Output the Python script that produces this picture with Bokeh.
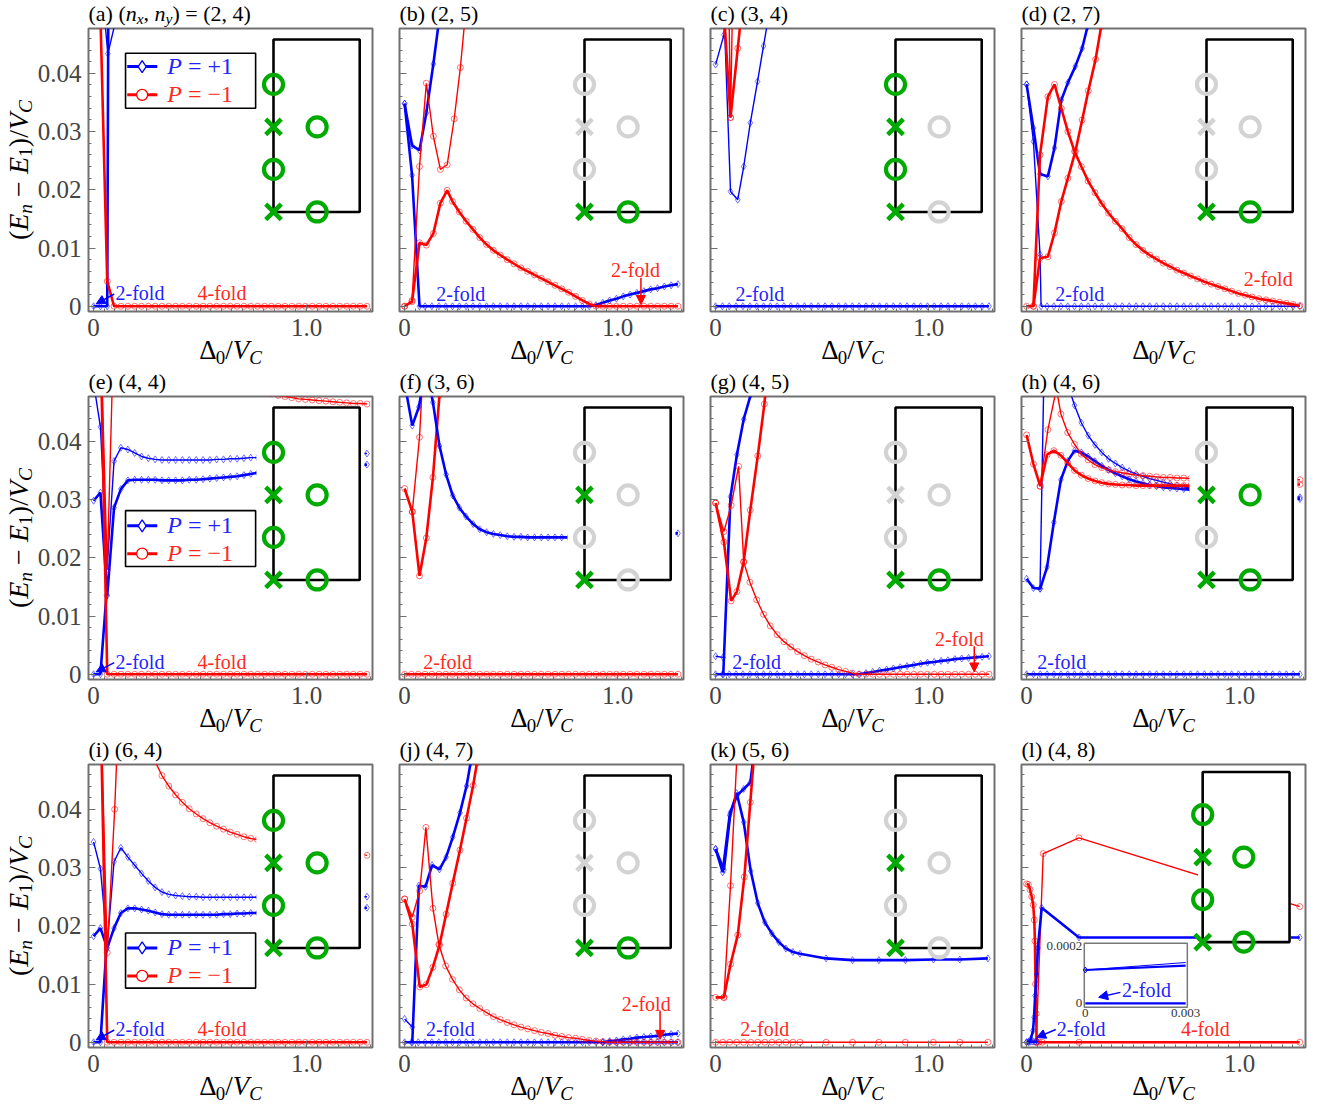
from math import pi

from bokeh.plotting import figure
from bokeh.layouts import row, column
from bokeh.models import Range1d, FixedTicker, Label, Arrow, NormalHead
from bokeh.embed import file_html
from bokeh.resources import INLINE

FONT = "Liberation Serif"
BLUE = "#0000ff"
RED = "#ff0000"
BLUE_TXT = "#2323ff"
RED_TXT = "#ff2a1e"
GREEN = "#00aa00"
LGRAY = "#d3d3d3"
THICK = 2.6
THIN = 1.4

XMIN, XMAX = -0.024, 1.31
YMIN, YMAX = -0.0009, 0.0477

# ---------------------------------------------------------------- data
X = [0.000, 0.032, 0.064, 0.096, 0.128, 0.161, 0.193, 0.225, 0.257, 0.289,
     0.321, 0.353, 0.385, 0.417, 0.449, 0.482, 0.514, 0.546, 0.578, 0.610,
     0.642, 0.674, 0.706, 0.738, 0.770, 0.803, 0.835, 0.867, 0.899, 0.931,
     0.963, 0.995, 1.027, 1.059, 1.091, 1.124, 1.156, 1.188, 1.220, 1.252, 1.284]
ZEROS = [0.0, 0.0, 0.0, 0.0, 0.0, 0.0, 0.0, 0.0, 0.0, 0.0,
         0.0, 0.0, 0.0, 0.0, 0.0, 0.0, 0.0, 0.0, 0.0, 0.0,
         0.0, 0.0, 0.0, 0.0, 0.0, 0.0, 0.0, 0.0, 0.0, 0.0,
         0.0, 0.0, 0.0, 0.0, 0.0, 0.0, 0.0, 0.0, 0.0, 0.0, 0.0]

Y_TICKS = [0.0, 0.01, 0.02, 0.03, 0.04]
Y_TICK_LABELS = ["0", "0.01", "0.02", "0.03", "0.04"]
X_TICKS = [0.0, 1.0]
X_TICK_LABELS = ["0", "1.0"]

# (a) (2, 4)
a_blue1_x = [0.000, 0.032, 0.064, 0.070]
a_blue1_y = [0.0, 0.0, 0.0, 0.0600]
a_blue2_x = [0.050, 0.067, 0.110]
a_blue2_y = [0.0500, 0.0434, 0.0500]
a_red1_x = X[1:]
a_red1_y = [0.0500, 0.0043] + ZEROS[:38]

# (b) (2, 5)
b_blue1_x = [0.000, 0.035, 0.070, 0.102, 0.135, 0.165]
b_blue1_y = [0.0348, 0.0276, 0.0268, 0.0332, 0.0416, 0.0500]
b_blue2_x = [0.000, 0.035, 0.070] + X[3:]
b_blue2_y = ([0.0348, 0.0225, 0.0] + ZEROS[:25] +
             [0.0002, 0.0006, 0.0010, 0.0013, 0.0017, 0.0020, 0.0023,
              0.0026, 0.0029, 0.0031, 0.0034, 0.0036, 0.0038])
b_red1_x = [0.000, 0.035, 0.070, 0.102, 0.135, 0.168, 0.200] + X[7:]
b_red1_y = ([0.0, 0.0008, 0.0109, 0.0105, 0.0125, 0.0177, 0.0199] +
            [0.0180, 0.0162, 0.0146, 0.0132, 0.0118, 0.0106, 0.0096, 0.0088,
             0.0080, 0.0073, 0.0066, 0.0060, 0.0054, 0.0048, 0.0042, 0.0036,
             0.0030, 0.0024, 0.0017, 0.0010, 0.0004] + ZEROS[:13])
b_red2_x = [0.000, 0.035, 0.070, 0.102, 0.135, 0.168, 0.200, 0.233, 0.262, 0.285]
b_red2_y = [0.0, 0.0010, 0.0240, 0.0383, 0.0292, 0.0235, 0.0243, 0.0322, 0.0410, 0.0500]

# (c) (3, 4)
c_blue0_x = X
c_blue0_y = ZEROS
c_blue1_x = [0.000, 0.039, 0.045]
c_blue1_y = [0.0415, 0.0466, 0.0500]
c_blue2_x = [0.037, 0.070, 0.104, 0.132, 0.163, 0.197, 0.225, 0.250]
c_blue2_y = [0.0530, 0.0197, 0.0183, 0.0240, 0.0315, 0.0386, 0.0447, 0.0500]
c_red1_x = [0.035, 0.070, 0.104, 0.129]
c_red1_y = [0.0530, 0.0324, 0.0443, 0.0530]
c_red2_x = [0.062, 0.070, 0.080]
c_red2_y = [0.0530, 0.0324, 0.0530]

# (d) (2, 7)
d_blue1_x = [0.000, 0.032, 0.063, 0.100, 0.131, 0.163, 0.194, 0.229, 0.261, 0.286]
d_blue1_y = [0.0381, 0.0306, 0.0227, 0.0223, 0.0272, 0.0354, 0.0384, 0.0412, 0.0443, 0.0480]
d_blue2_x = [0.000, 0.032, 0.063, 0.068] + X[3:]
d_blue2_y = [0.0381, 0.0283, 0.0089, 0.0] + ZEROS[:38]
d_red1_x = [0.000, 0.032, 0.063, 0.100, 0.131, 0.163, 0.194] + X[7:]
d_red1_y = ([0.0, 0.0, 0.0260, 0.0360, 0.0381, 0.0340, 0.0300] +
            [0.0266, 0.0240, 0.0215, 0.0195, 0.0176, 0.0160, 0.0146, 0.0133,
             0.0118, 0.0106, 0.0096, 0.0088, 0.0081, 0.0074, 0.0068, 0.0062,
             0.0057, 0.0052, 0.0047, 0.0042, 0.0038, 0.0034, 0.0030, 0.0026,
             0.0022, 0.0019, 0.0016, 0.0013, 0.0011, 0.0009, 0.0007, 0.0005,
             0.0003, 0.0001])
d_red2_x = [0.032, 0.063, 0.100, 0.131, 0.163, 0.194, 0.229, 0.261, 0.290, 0.324, 0.350]
d_red2_y = [0.0, 0.0083, 0.0085, 0.0126, 0.0180, 0.0220, 0.0266, 0.0320, 0.0370, 0.0424, 0.0480]

# (e) (4, 4)
e_blue1_x = X
e_blue1_y = [0.0298, 0.0312, 0.0135, 0.0286, 0.0318, 0.0333, 0.0334, 0.0334, 0.0334, 0.0334,
             0.0333, 0.0333, 0.0333, 0.0333, 0.0334, 0.0334, 0.0335, 0.0336, 0.0337, 0.0338,
             0.0339, 0.0340, 0.0342, 0.0344, 0.0346, 0.0347, 0.0348, 0.0349, 0.0350, 0.0351,
             0.0352, 0.0353, 0.0354, 0.0355, 0.0356, 0.0357, 0.0357, 0.0358, 0.0359, 0.0359,
             0.0360]
e_blue2_x = X
e_blue2_y = [0.0500, 0.0425, 0.0185, 0.0366, 0.0389, 0.0386, 0.0380, 0.0374, 0.0371, 0.0369,
             0.0368, 0.0368, 0.0368, 0.0368, 0.0368, 0.0368, 0.0368, 0.0368, 0.0369, 0.0369,
             0.0370, 0.0370, 0.0371, 0.0372, 0.0372, 0.0373, 0.0373, 0.0374, 0.0374, 0.0375,
             0.0375, 0.0376, 0.0376, 0.0377, 0.0377, 0.0378, 0.0378, 0.0378, 0.0379, 0.0379,
             0.0379]
e_blue3_x = [0.000, 0.032, 0.060]
e_blue3_y = [0.0, 0.0, 0.0135]
e_red1_x = X[1:]
e_red1_y = [0.0590] + ZEROS[:39]
e_red2_x = [0.032, 0.064, 0.096]
e_red2_y = [0.0600, 0.0180, 0.0610]
e_red3_x = X[24:]
e_red3_y = [0.0490, 0.0486, 0.0482, 0.0479, 0.0477, 0.0475, 0.0473, 0.0472, 0.0471,
            0.0470, 0.0469, 0.0468, 0.0467, 0.0466, 0.0465, 0.0465, 0.0464]

# (f) (3, 6)
f_red0_x = X
f_red0_y = ZEROS
f_red1_x = [0.000, 0.036, 0.070, 0.102, 0.133, 0.164]
f_red1_y = [0.0319, 0.0279, 0.0169, 0.0234, 0.0338, 0.0480]
f_red2_x = [0.036, 0.070, 0.082]
f_red2_y = [0.0279, 0.0407, 0.0490]
f_blue1_x = [0.005, 0.036, 0.067, 0.082]
f_blue1_y = [0.0490, 0.0427, 0.0459, 0.0490]
f_blue2_x = [0.115, 0.133, 0.164, 0.195, 0.226, 0.257, 0.288, 0.322, 0.353] + X[12:]
f_blue2_y = ([0.0500, 0.0467, 0.0392, 0.0343, 0.0307, 0.0286, 0.0271, 0.0258, 0.0249] +
             [0.0244, 0.0241, 0.0239, 0.0237, 0.0236, 0.0236, 0.0235, 0.0235, 0.0235, 0.0235,
              0.0235, 0.0235, 0.0235, 0.0235, 0.0236, 0.0236, 0.0237, 0.0237, 0.0238, 0.0238,
              0.0239, 0.0239, 0.0240, 0.0240, 0.0241, 0.0241, 0.0242, 0.0242, 0.0242])

# (g) (4, 5)
g_blue0_x = [0.000, 0.035]
g_blue0_y = [0.0031, 0.0029]
g_blue1_x = X
g_blue1_y = ZEROS[:22] + [0.0002, 0.0004, 0.0006, 0.0008, 0.0010, 0.0012, 0.0014, 0.0016,
                          0.0018, 0.0020, 0.0021, 0.0023, 0.0024, 0.0026, 0.0027, 0.0028,
                          0.0029, 0.0030, 0.0031]
g_blue2_x = [0.036, 0.070, 0.100, 0.132, 0.165]
g_blue2_y = [0.0, 0.0305, 0.0377, 0.0438, 0.0480]
g_red1_x = [0.000, 0.039, 0.073, 0.100, 0.132, 0.163, 0.198, 0.229, 0.236]
g_red1_y = [0.0294, 0.0227, 0.0126, 0.0142, 0.0193, 0.0282, 0.0375, 0.0464, 0.0490]
g_red2_x = [0.000, 0.039, 0.073, 0.108, 0.132] + X[5:]
g_red2_y = ([0.0294, 0.0245, 0.0290, 0.0357, 0.0193] +
            [0.0158, 0.0128, 0.0103, 0.0083, 0.0068, 0.0056, 0.0047, 0.0039,
             0.0032, 0.0026, 0.0021, 0.0016, 0.0012, 0.0008, 0.0005, 0.0002] + ZEROS[:20])

# (h) (4, 6)
h_blue0_x = X
h_blue0_y = ZEROS
h_blue1_x = X
h_blue1_y = [0.0164, 0.0148, 0.0147, 0.0184, 0.0261, 0.0334, 0.0366, 0.0384, 0.0381, 0.0374,
             0.0366, 0.0358, 0.0351, 0.0345, 0.0340, 0.0335, 0.0331, 0.0328, 0.0325, 0.0323,
             0.0321, 0.0320, 0.0319, 0.0318, 0.0317, 0.0316, 0.0315, 0.0314, 0.0313, 0.0312,
             0.0311, 0.0310, 0.0309, 0.0308, 0.0307, 0.0306, 0.0305, 0.0304, 0.0303, 0.0302,
             0.0301]
h_blue2_x = [0.063, 0.080]
h_blue2_y = [0.0147, 0.0490]
h_blue3_x = [0.200] + X[7:]
h_blue3_y = ([0.0490] +
             [0.0462, 0.0432, 0.0410, 0.0394, 0.0381, 0.0370, 0.0362, 0.0355, 0.0349, 0.0344,
              0.0340, 0.0336, 0.0333, 0.0330, 0.0327, 0.0324, 0.0322, 0.0320, 0.0319, 0.0318,
              0.0317, 0.0316, 0.0315, 0.0314, 0.0313, 0.0312, 0.0311, 0.0310, 0.0309, 0.0308,
              0.0307, 0.0306, 0.0305, 0.0304])
h_red1_x = X
h_red1_y = [0.0411, 0.0361, 0.0323, 0.0377, 0.0384, 0.0376, 0.0363, 0.0350, 0.0342, 0.0336,
            0.0332, 0.0329, 0.0327, 0.0326, 0.0325, 0.0325, 0.0324, 0.0324, 0.0324, 0.0324,
            0.0324, 0.0324, 0.0324, 0.0324, 0.0324, 0.0324, 0.0325, 0.0325, 0.0325, 0.0325,
            0.0325, 0.0325, 0.0326, 0.0326, 0.0326, 0.0326, 0.0326, 0.0326, 0.0326, 0.0326,
            0.0326]
h_red2_x = [0.063, 0.100, 0.140] + X[5:]
h_red2_y = ([0.0323, 0.0420, 0.0490] +
            [0.0447, 0.0415, 0.0395, 0.0378, 0.0368, 0.0360, 0.0355, 0.0351, 0.0348, 0.0346,
             0.0344, 0.0342, 0.0341, 0.0340, 0.0339, 0.0338, 0.0338, 0.0337, 0.0337, 0.0336,
             0.0336, 0.0336, 0.0335, 0.0335, 0.0335, 0.0335, 0.0335, 0.0334, 0.0334, 0.0334,
             0.0334, 0.0334, 0.0334, 0.0334, 0.0334, 0.0334])

# (i) (6, 4)
i_blue1_x = X
i_blue1_y = [0.0344, 0.0298, 0.0168, 0.0310, 0.0334, 0.0318, 0.0304, 0.0290, 0.0277, 0.0266,
             0.0258, 0.0254, 0.0252, 0.0251, 0.0250, 0.0250, 0.0249, 0.0249, 0.0249, 0.0249,
             0.0249, 0.0249, 0.0249, 0.0249, 0.0249, 0.0249, 0.0249, 0.0249, 0.0249, 0.0249,
             0.0249, 0.0249, 0.0249, 0.0249, 0.0249, 0.0249, 0.0250, 0.0250, 0.0250, 0.0250,
             0.0250]
i_blue2_x = X
i_blue2_y = [0.0182, 0.0196, 0.0162, 0.0196, 0.0222, 0.0230, 0.0230, 0.0228, 0.0226, 0.0223,
             0.0220, 0.0219, 0.0219, 0.0219, 0.0219, 0.0219, 0.0219, 0.0219, 0.0219, 0.0220,
             0.0220, 0.0221, 0.0221, 0.0222, 0.0222, 0.0223, 0.0223, 0.0224, 0.0224, 0.0225,
             0.0225, 0.0226, 0.0226, 0.0227, 0.0227, 0.0228, 0.0228, 0.0229, 0.0229, 0.0230,
             0.0231]
i_blue3_x = [0.000, 0.032, 0.060]
i_blue3_y = [0.0, 0.0, 0.0160]
i_red1_x = X[1:]
i_red1_y = [0.0590] + ZEROS[:39]
i_red2_x = [0.032, 0.064, 0.099, 0.110]
i_red2_y = [0.0600, 0.0154, 0.0400, 0.0500]
i_red3_x = X[9:]
i_red3_y = ([0.0482, 0.0458, 0.0440, 0.0425, 0.0412, 0.0401, 0.0392, 0.0384, 0.0377, 0.0371,
             0.0366, 0.0361, 0.0357, 0.0353, 0.0350] +
            [0.0348, 0.0346, 0.0344, 0.0342, 0.0340, 0.0338, 0.0336, 0.0334, 0.0332, 0.0331,
             0.0329, 0.0328, 0.0327, 0.0325, 0.0324, 0.0323, 0.0321])

# (j) (4, 7)
j_blue0_x = X
j_blue0_y = ZEROS
j_blue1_x = [0.000, 0.036]
j_blue1_y = [0.0040, 0.0026]
j_blue2_x = X[29:]
j_blue2_y = [0.0, 0.0002, 0.0003, 0.0005, 0.0006, 0.0008, 0.0009, 0.0010, 0.0011, 0.0013, 0.0014, 0.0015]
j_blue3_x = [0.036, 0.067, 0.098, 0.129, 0.164, 0.195, 0.226, 0.260, 0.291, 0.310]
j_blue3_y = [0.0, 0.0269, 0.0267, 0.0304, 0.0297, 0.0318, 0.0352, 0.0394, 0.0440, 0.0480]
j_red1_x = [0.000, 0.036, 0.071, 0.102, 0.133, 0.164, 0.195, 0.226, 0.260, 0.291, 0.322, 0.340]
j_red1_y = [0.0246, 0.0203, 0.0095, 0.0099, 0.0129, 0.0167, 0.0220, 0.0273, 0.0330, 0.0385, 0.0441, 0.0480]
j_red2_x = [0.000, 0.036, 0.071, 0.100, 0.133] + X[5:]
j_red2_y = ([0.0246, 0.0215, 0.0260, 0.0369, 0.0230] +
            [0.0168, 0.0131, 0.0108, 0.0090, 0.0076, 0.0066, 0.0058, 0.0051, 0.0044, 0.0039,
             0.0034, 0.0030, 0.0026, 0.0023, 0.0020, 0.0017, 0.0015, 0.0012, 0.0010, 0.0008,
             0.0007, 0.0005, 0.0003, 0.0002, 0.0001] + ZEROS[:11])

# (k) (5, 6)
XK = [0.000, 0.033, 0.066, 0.099, 0.132, 0.165, 0.198, 0.231, 0.264, 0.297,
      0.330, 0.363, 0.396, 0.519, 0.643, 0.767, 0.891, 1.023, 1.147, 1.279]
k_red0_x = XK
k_red0_y = ZEROS[:20]
k_blue1_x = [0.000, 0.039, 0.070, 0.101, 0.132, 0.163, 0.178]
k_blue1_y = [0.0332, 0.0296, 0.0395, 0.0424, 0.0435, 0.0446, 0.0490]
k_blue2_x = XK
k_blue2_y = [0.0332, 0.0292, 0.0390, 0.0428, 0.0378, 0.0294, 0.0239, 0.0206, 0.0187, 0.0172,
             0.0161, 0.0155, 0.0152, 0.0144, 0.0141, 0.0141, 0.0141, 0.0142, 0.0142, 0.0144]
k_red1_x = [0.000, 0.039, 0.070, 0.104, 0.135, 0.163, 0.180]
k_red1_y = [0.0077, 0.0077, 0.0134, 0.0184, 0.0284, 0.0412, 0.0490]
k_red2_x = [0.039, 0.070, 0.100]
k_red2_y = [0.0077, 0.0269, 0.0490]

# (l) (4, 8)
l_red1_x = [0.000, 0.008, 0.016, 0.024, 0.031, 0.036, 0.039, 0.042, 0.045, 0.047,
            0.058, 0.073, 0.246, 1.283]
l_red1_y = [0.0272, 0.0271, 0.0262, 0.0250, 0.0236, 0.0210, 0.0174, 0.0100, 0.0049, 0.0,
            0.0, 0.0, 0.0, 0.0]
l_red2_x = [0.045, 0.078, 0.246, 1.283]
l_red2_y = [0.0, 0.0324, 0.0351, 0.0233]
l_blue1_x = [0.000, 0.010, 0.020, 0.030, 0.035, 0.040, 0.047, 0.053, 0.071, 0.246, 1.283]
l_blue1_y = [0.0, 0.0001, 0.0006, 0.0020, 0.0043, 0.0080, 0.0117, 0.0162, 0.0231, 0.0180, 0.0180]
l_blue2_x = [0.000, 0.010, 0.020, 0.030, 0.040, 0.050]
l_blue2_y = [0.0, 0.0, 0.0001, 0.0001, 0.0001, 0.0001]
# zoomed view of the lowest levels near the origin
li_x = [0.0, 0.003]
li_y0 = [0.0, 0.0]
li_y1 = [0.000116, 0.000131]
li_y2 = [0.000116, 0.000142]

# ------------------------------------------------------- panel settings
INSET_STD = dict(left=0.845, right=1.25, top=0.0458, bottom=0.0162, step=0.0073,
                 rx=1.05, cover=(0.765, 1.272, 0.0150, 0.0461))
INSET_L = dict(left=0.827, right=1.235, top=0.0464, bottom=0.0172, step=0.0073,
               rx=1.02, cover=(0.805, 1.240, 0.0160, 0.0468))


def title_plain(s):
    return [(s, 0, 0)]


PANELS = [
    dict(title=[("(a) (", 0, 0), ("n", 1, 0), ("x", 1, 1), (", ", 0, 0), ("n", 1, 0),
                ("y", 1, 1), (") = (2, 4)", 0, 0)],
         series=[("b", a_blue1_x, a_blue1_y, THICK), ("b", a_blue2_x, a_blue2_y, THIN),
                 ("r", a_red1_x, a_red1_y, THICK)],
         inset=INSET_STD, states="GGGGGG",
         legend=(0.150, 0.761, 0.0340, 0.04345, 0.04117, 0.03631),
         notes=[("2-fold", BLUE_TXT, 0.103, 0.0022), ("4-fold", RED_TXT, 0.488, 0.0022)],
         arrows=[(BLUE, 0.097, 0.0021, 0.012, 0.0004)]),
    dict(title=title_plain("(b) (2, 5)"),
         series=[("b", b_blue1_x, b_blue1_y, THICK), ("b", b_blue2_x, b_blue2_y, THICK),
                 ("r", b_red1_x, b_red1_y, THICK), ("r", b_red2_x, b_red2_y, THIN)],
         inset=INSET_STD, states="LLLGLG", legend=None,
         notes=[("2-fold", BLUE_TXT, 0.149, 0.0021), ("2-fold", RED_TXT, 0.97, 0.0063)],
         arrows=[(RED, 1.11, 0.0049, 1.11, 0.0003)]),
    dict(title=title_plain("(c) (3, 4)"),
         series=[("b", c_blue0_x, c_blue0_y, THICK), ("b", c_blue1_x, c_blue1_y, THIN),
                 ("b", c_blue2_x, c_blue2_y, THIN), ("r", c_red1_x, c_red1_y, THICK),
                 ("r", c_red2_x, c_red2_y, THIN)],
         inset=INSET_STD, states="GGGGLL", legend=None,
         notes=[("2-fold", BLUE_TXT, 0.093, 0.0021)], arrows=[]),
    dict(title=title_plain("(d) (2, 7)"),
         series=[("b", d_blue1_x, d_blue1_y, THICK), ("b", d_blue2_x, d_blue2_y, THIN),
                 ("r", d_red1_x, d_red1_y, THICK), ("r", d_red2_x, d_red2_y, THICK)],
         inset=INSET_STD, states="LLLGLG", legend=None,
         notes=[("2-fold", BLUE_TXT, 0.135, 0.0021), ("2-fold", RED_TXT, 1.02, 0.0046)],
         arrows=[]),
    dict(title=title_plain("(e) (4, 4)"),
         series=[("b", e_blue1_x, e_blue1_y, THICK), ("b", e_blue2_x, e_blue2_y, THIN),
                 ("b", e_blue3_x, e_blue3_y, THICK), ("r", e_red1_x, e_red1_y, THICK),
                 ("r", e_red2_x, e_red2_y, THIN), ("r", e_red3_x, e_red3_y, THIN)],
         inset=INSET_STD, states="GGGGGG",
         legend=(0.150, 0.761, 0.0185, 0.0281, 0.0255, 0.0207),
         notes=[("2-fold", BLUE_TXT, 0.103, 0.0021), ("4-fold", RED_TXT, 0.488, 0.0021)],
         arrows=[(BLUE, 0.097, 0.0020, 0.012, 0.0004)]),
    dict(title=title_plain("(f) (3, 6)"),
         series=[("r", f_red0_x, f_red0_y, THICK), ("r", f_red1_x, f_red1_y, THICK),
                 ("r", f_red2_x, f_red2_y, THIN), ("b", f_blue1_x, f_blue1_y, THICK),
                 ("b", f_blue2_x, f_blue2_y, THICK)],
         inset=INSET_STD, states="LGLGLL", legend=None,
         notes=[("2-fold", RED_TXT, 0.087, 0.0021)], arrows=[]),
    dict(title=title_plain("(g) (4, 5)"),
         series=[("b", g_blue0_x, g_blue0_y, THIN), ("b", g_blue1_x, g_blue1_y, THICK),
                 ("b", g_blue2_x, g_blue2_y, THICK), ("r", g_red1_x, g_red1_y, THICK),
                 ("r", g_red2_x, g_red2_y, THIN)],
         inset=INSET_STD, states="LLLGLG", legend=None,
         notes=[("2-fold", BLUE_TXT, 0.078, 0.0021), ("2-fold", RED_TXT, 1.03, 0.0061)],
         arrows=[(RED, 1.215, 0.0048, 1.215, 0.0004)]),
    dict(title=title_plain("(h) (4, 6)"),
         series=[("b", h_blue0_x, h_blue0_y, THICK), ("b", h_blue1_x, h_blue1_y, THICK),
                 ("b", h_blue2_x, h_blue2_y, THIN), ("b", h_blue3_x, h_blue3_y, THIN),
                 ("r", h_red1_x, h_red1_y, THICK), ("r", h_red2_x, h_red2_y, THIN)],
         inset=INSET_STD, states="LGLGGG", legend=None,
         notes=[("2-fold", BLUE_TXT, 0.05, 0.0021)], arrows=[]),
    dict(title=title_plain("(i) (6, 4)"),
         series=[("b", i_blue1_x, i_blue1_y, THIN), ("b", i_blue2_x, i_blue2_y, THICK),
                 ("b", i_blue3_x, i_blue3_y, THICK), ("r", i_red1_x, i_red1_y, THICK),
                 ("r", i_red2_x, i_red2_y, THIN), ("r", i_red3_x, i_red3_y, THIN)],
         inset=INSET_STD, states="GGGGGG",
         legend=(0.150, 0.761, 0.0093, 0.01877, 0.0162, 0.0114),
         notes=[("2-fold", BLUE_TXT, 0.103, 0.0023), ("4-fold", RED_TXT, 0.488, 0.0023)],
         arrows=[(BLUE, 0.097, 0.0021, 0.012, 0.0004)]),
    dict(title=title_plain("(j) (4, 7)"),
         series=[("b", j_blue0_x, j_blue0_y, THICK), ("b", j_blue1_x, j_blue1_y, THIN),
                 ("b", j_blue2_x, j_blue2_y, THICK), ("b", j_blue3_x, j_blue3_y, THICK),
                 ("r", j_red1_x, j_red1_y, THICK), ("r", j_red2_x, j_red2_y, THIN)],
         inset=INSET_STD, states="LLLGLG", legend=None,
         notes=[("2-fold", BLUE_TXT, 0.10, 0.0023), ("2-fold", RED_TXT, 1.02, 0.0066)],
         arrows=[(RED, 1.20, 0.0054, 1.20, 0.0005)]),
    dict(title=title_plain("(k) (5, 6)"),
         series=[("r", k_red0_x, k_red0_y, THIN), ("b", k_blue1_x, k_blue1_y, THICK),
                 ("b", k_blue2_x, k_blue2_y, THICK), ("r", k_red1_x, k_red1_y, THICK),
                 ("r", k_red2_x, k_red2_y, THIN)],
         inset=INSET_STD, states="LGLGLL", legend=None,
         notes=[("2-fold", RED_TXT, 0.116, 0.0023)], arrows=[]),
    dict(title=title_plain("(l) (4, 8)"),
         series=[("r", l_red1_x, l_red1_y, THICK), ("r", l_red2_x, l_red2_y, THIN),
                 ("b", l_blue1_x, l_blue1_y, THICK), ("b", l_blue2_x, l_blue2_y, THICK)],
         inset=INSET_L, states="GGGGGG", legend=None,
         notes=[("2-fold", BLUE_TXT, 0.141, 0.0023), ("4-fold", RED_TXT, 0.725, 0.0023)],
         arrows=[(BLUE, 0.137, 0.0022, 0.047, 0.0008)], zoom=True),
]

for cfg in PANELS:
    for kind, xs, ys, lw in cfg["series"]:
        assert len(xs) == len(ys), (cfg["title"], len(xs), len(ys))

# ------------------------------------------------------------ geometry
CELL_H = 368
FW, FH = 284, 283            # plotting frame of one panel
YSTRIP = 86                  # vertical caption + tick numbers (first column)
LEFT1, LEFT = 2, 15          # left border of the panel figure
RIGHT = 12
PAD_T, PAD_B = 1, 2
TOP_H = 27
BOT_H = CELL_H - TOP_H - PAD_T - FH - PAD_B
PPU_X = FW / (XMAX - XMIN)
PPU_Y = FH / (YMAX - YMIN)

# --------------------------------------------------------- text helpers
REG_W = {' ': .25, '(': .333, ')': .333, ',': .25, '.': .25, '/': .278, '=': .564,
         '+': .564, '\u2212': .564, '-': .333, '\u0394': .612, 'a': .444, 'b': .5,
         'c': .444, 'd': .5, 'e': .444, 'f': .333, 'g': .5, 'h': .5, 'i': .278,
         'j': .278, 'k': .5, 'l': .278, 'o': .5}
ITA_W = {'E': .611, 'n': .5, 'x': .444, 'y': .444, 'V': .611, 'C': .667, 'P': .611}
SUB = 0.7


def text_width(s, italic):
    table = ITA_W if italic else REG_W
    return sum(table.get(ch, 0.5) for ch in s)


def rich(p, x, y, pieces, size, color="black", angle=0.0, dx=0.0, dy=0.0,
         align="left", drop_frac=0.28, **kw):
    """Lay out a run of normal / italic / subscript pieces, centred on y."""
    sizes = [size * (SUB if sub else 1.0) for _, _, sub in pieces]
    widths = [text_width(t, it) * fs for (t, it, _), fs in zip(pieces, sizes)]
    total = sum(widths)
    pos = {"left": 0.0, "center": -total / 2, "right": -total}[align]
    for (text, ital, sub), fs, w in zip(pieces, sizes, widths):
        lead = len(text) - len(text.lstrip(" "))
        shown = text.strip(" ")
        start = pos + lead * REG_W[" "] * fs
        drop = drop_frac * size if sub else 0.0
        if angle:
            xo, yo = dx + drop, dy + start
        else:
            xo, yo = dx + start, dy - drop
        if shown:
            p.add_layout(Label(x=x, y=y, x_offset=xo, y_offset=yo, text=shown, angle=angle,
                               text_font=FONT,
                               text_font_style="italic" if ital else "normal",
                               text_font_size=f"{fs:.1f}px", text_color=color,
                               text_baseline="middle", text_align="left", **kw))
        pos += w


def strip(width, height, x_range, y_range):
    s = figure(frame_width=width, frame_height=height, x_range=x_range, y_range=y_range,
               output_backend="svg", toolbar_location=None, min_border=0,
               x_axis_location=None, y_axis_location=None)
    s.grid.visible = False
    s.outline_line_color = None
    return s


def draw_series(p, kind, xs, ys, lw):
    color = BLUE if kind == "b" else RED
    p.line(xs, ys, line_color=color, line_width=lw)
    if kind == "b":
        p.scatter(xs, ys, marker="diamond", size=7, fill_color=None,
                  line_color=color, line_alpha=0.55, line_width=1)
    else:
        p.scatter(xs, ys, marker="circle", size=6, fill_color=None,
                  line_color=color, line_alpha=0.55, line_width=1)


def draw_schematic(p, ins, states):
    cx0, cx1, cy0, cy1 = ins["cover"]
    p.quad(left=[cx0], right=[cx1], bottom=[cy0], top=[cy1], fill_color="white",
           line_color=None)
    p.quad(left=[ins["left"]], right=[ins["right"]], bottom=[ins["bottom"]],
           top=[ins["top"]], fill_color=None, line_color="black", line_width=2.6)
    b, s, lx, rx = ins["bottom"], ins["step"], ins["left"], ins["rx"]
    col = [GREEN if c == "G" else LGRAY for c in states]
    # left column top to bottom: ring, cross, ring, cross; right column: two rings
    p.scatter([lx, lx, rx, rx], [b + 3 * s, b + s, b + 2 * s, b],
              marker="circle", size=19, fill_color=None,
              line_color=[col[0], col[2], col[4], col[5]], line_width=4.2)
    p.scatter([lx, lx], [b + 2 * s, b], marker="x", size=22,
              line_color=[col[1], col[3]], line_width=4.6)


def draw_legend(p, leg):
    l, r, b, t, y1, y2 = leg
    p.quad(left=[l], right=[r], bottom=[b], top=[t], fill_color="white",
           line_color="black", line_width=1.6)
    for yy, color, marker, sign in ((y1, BLUE, "diamond", "+1"), (y2, RED, "circle", "\u22121")):
        p.line([l + 0.008, l + 0.149], [yy, yy], line_color=color, line_width=3)
        p.scatter([l + 0.078], [yy], marker=marker, size=12 if marker == "diamond" else 11,
                  fill_color="white", line_color=color, line_width=1.3)
        rich(p, l + 0.196, yy, [("P", 1, 0), (" = " + sign, 0, 0)], 24,
             color=BLUE_TXT if color == BLUE else RED_TXT, dy=1)


def draw_zoom(p):
    # small framed view (0..0.003, 0..0.0002) placed inside the panel
    box = (0.271, 0.755, 0.0060, 0.0170)
    lim = (-0.00003, 0.00305, -0.000014, 0.000209)
    sx = (lim[1] - lim[0]) / (box[1] - box[0])
    sy = (lim[3] - lim[2]) / (box[3] - box[2])
    p.extra_x_ranges = {"ix": Range1d(lim[0] - (box[0] - XMIN) * sx,
                                      lim[0] + (XMAX - box[0]) * sx)}
    p.extra_y_ranges = {"iy": Range1d(lim[2] - (box[2] - YMIN) * sy,
                                      lim[2] + (YMAX - box[2]) * sy)}
    rn = dict(x_range_name="ix", y_range_name="iy")
    p.quad(left=[lim[0]], right=[lim[1]], bottom=[lim[2]], top=[lim[3]],
           fill_color="white", line_color="#777777", line_width=1.5, **rn)
    p.line(li_x, li_y0, line_color=BLUE, line_width=2.2, **rn)
    p.line(li_x, li_y1, line_color=BLUE, line_width=2.2, **rn)
    p.line(li_x, li_y2, line_color=BLUE, line_width=1.2, **rn)
    p.scatter([li_x[0]], [li_y1[0]], marker="diamond", size=6, fill_color=None,
              line_color=BLUE, **rn)
    small = dict(text_font=FONT, text_font_size="13px", text_color="#333333", **rn)
    p.add_layout(Label(x=lim[0], y=0.0002, x_offset=-2, text="0.0002",
                       text_align="right", text_baseline="middle", **small))
    p.add_layout(Label(x=lim[0], y=0.0, x_offset=-2, text="0",
                       text_align="right", text_baseline="middle", **small))
    p.add_layout(Label(x=0.0, y=lim[2], y_offset=-2, text="0",
                       text_align="center", text_baseline="top", **small))
    p.add_layout(Label(x=0.003, y=lim[2], y_offset=-2, text="0.003",
                       text_align="center", text_baseline="top", **small))
    p.add_layout(Label(x=0.0011, y=0.0000465, text="2-fold", text_font=FONT,
                       text_font_size="20px", text_color=BLUE_TXT,
                       text_baseline="middle", text_align="left", **rn))
    p.add_layout(Arrow(x_start=0.00105, y_start=0.000038, x_end=0.0004, y_end=0.0000208,
                       line_color=BLUE, line_width=1.5,
                       end=NormalHead(size=9, fill_color=BLUE, line_color=BLUE), **rn))


def y_caption():
    """Full-height strip left of the first column: tick numbers and caption."""
    below = CELL_H - TOP_H - PAD_T - FH
    above = TOP_H + PAD_T
    ys = strip(YSTRIP, CELL_H, Range1d(0, YSTRIP),
               Range1d(YMIN - below / PPU_Y, YMAX + above / PPU_Y))
    for t, lab in zip(Y_TICKS, Y_TICK_LABELS):
        ys.add_layout(Label(x=YSTRIP - 5, y=t, text=lab, text_font=FONT,
                            text_font_size="25px", text_align="right",
                            text_baseline="middle"))
    rich(ys, 18, (YMIN + YMAX) / 2,
         [("(", 0, 0), ("E", 1, 0), ("n", 1, 1), (" \u2212 ", 0, 0), ("E", 1, 0),
          ("1", 0, 1), (")/", 0, 0), ("V", 1, 0), ("C", 1, 1)],
         28, angle=pi / 2, align="center", drop_frac=0.26)
    return ys


def make_cell(cfg, col):
    """Title strip, panel and caption strip of one panel, stacked."""
    first = col == 0
    left = LEFT1 if first else LEFT
    p = figure(frame_width=FW, frame_height=FH,
               x_range=Range1d(XMIN, XMAX), y_range=Range1d(YMIN, YMAX),
               output_backend="svg", toolbar_location=None,
               min_border_left=left, min_border_right=RIGHT,
               min_border_top=PAD_T, min_border_bottom=PAD_B)
    p.grid.visible = False
    p.outline_line_color = "#707070"
    p.outline_line_width = 2

    for ax in (p.xaxis[0], p.yaxis[0]):
        ax.axis_line_color = None
        ax.major_tick_in = 7
        ax.major_tick_out = 0
        ax.minor_tick_in = 3
        ax.minor_tick_out = 0
        ax.major_tick_line_color = "#707070"
        ax.minor_tick_line_color = "#707070"
        # tick numbers are written in the neighbouring caption strips
        ax.major_label_text_font_size = "0px"
        ax.major_label_standoff = 0
    p.xaxis.ticker = FixedTicker(ticks=X_TICKS,
                                 minor_ticks=[k * 0.05 for k in range(0, 27)])
    p.xaxis.major_label_overrides = {t: "" for t in X_TICKS}
    p.yaxis.ticker = FixedTicker(ticks=Y_TICKS,
                                 minor_ticks=[k * 0.002 for k in range(0, 24)])
    p.yaxis.major_label_overrides = {t: "" for t in Y_TICKS}

    for kind, xs, ys, lw in cfg["series"]:
        draw_series(p, kind, xs, ys, lw)

    draw_schematic(p, cfg["inset"], cfg["states"])
    if cfg["legend"]:
        draw_legend(p, cfg["legend"])
    if cfg.get("zoom"):
        draw_zoom(p)

    for text, color, x, y in cfg["notes"]:
        p.add_layout(Label(x=x, y=y, text=text, text_font=FONT, text_font_size="20px",
                           text_color=color, text_baseline="middle", text_align="left"))
    for color, x0, y0, x1, y1 in cfg["arrows"]:
        p.add_layout(Arrow(x_start=x0, y_start=y0, x_end=x1, y_end=y1,
                           line_color=color, line_width=1.5,
                           end=NormalHead(size=9, fill_color=color, line_color=color)))

    # caption strips span the cell and use the panel's horizontal scale
    cell_w = left + FW + RIGHT

    def sx_range():
        return Range1d(XMIN - left / PPU_X, XMAX + RIGHT / PPU_X)

    top = strip(cell_w, TOP_H, sx_range(), Range1d(0, TOP_H))
    rich(top, XMIN, TOP_H - 12.5, cfg["title"], 22, drop_frac=0.25)

    bot = strip(cell_w, BOT_H, sx_range(), Range1d(0, BOT_H))
    for t, lab in zip(X_TICKS, X_TICK_LABELS):
        bot.add_layout(Label(x=t, y=BOT_H - 14, text=lab, text_font=FONT,
                             text_font_size="25px", text_align="center",
                             text_baseline="middle"))
    rich(bot, (XMIN + XMAX) / 2, BOT_H - 36,
         [("\u0394", 0, 0), ("0", 0, 1), ("/", 0, 0), ("V", 1, 0), ("C", 1, 1)],
         27, align="center")

    # wrapping the panel in a row keeps its borders independent of the strips
    stack = column(top, row(p), bot)
    return row(y_caption(), stack) if first else stack


cells = [make_cell(cfg, i % 4) for i, cfg in enumerate(PANELS)]
page = column(row(cells[0:4]), row(cells[4:8]), row(cells[8:12]))

open("out.html", "w").write(file_html(page, INLINE))
